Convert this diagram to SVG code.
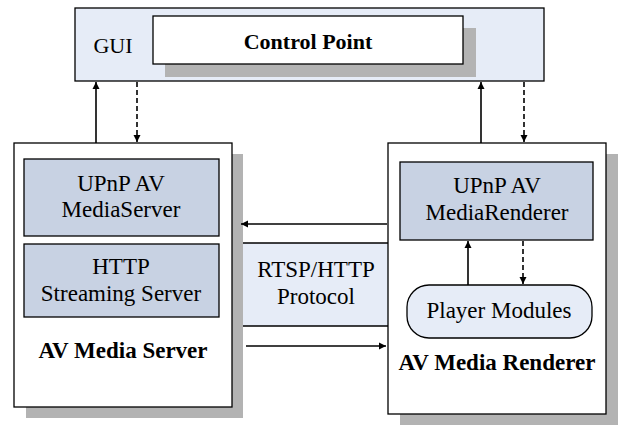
<svg xmlns="http://www.w3.org/2000/svg" width="622" height="425" viewBox="0 0 622 425">
<style>
.t{font-family:"Liberation Serif","Times New Roman",serif;font-size:23px;fill:#000;text-anchor:middle}
.b{font-weight:bold}
.shadow{fill:#b3b3b3}
.light{fill:#e6ecf7;stroke:#000;stroke-width:1.3}
.mid{fill:#c8d2e3;stroke:#000;stroke-width:1.3}
.white{fill:#fff;stroke:#000;stroke-width:1.3}
.c{stroke:#000;stroke-width:1.6;fill:none}
.d{stroke-dasharray:5 3}
</style>
<defs>
<marker id="ah" markerWidth="8" markerHeight="8" refX="7" refY="4" orient="auto" markerUnits="userSpaceOnUse">
<path d="M0,0.5 L7,4 L0,7.5 Z" fill="#000"/>
</marker>
</defs>
<rect width="622" height="425" fill="#fff"/>
<g id="protocol">
<rect x="240" y="243" width="148" height="83" fill="#e6ecf7"/>
<line x1="240" y1="243" x2="388" y2="243" stroke="#000" stroke-width="1.3"/>
<line x1="240" y1="326" x2="388" y2="326" stroke="#000" stroke-width="1.3"/>
<text class="t" x="316" y="277">RTSP/HTTP</text>
<text class="t" x="316" y="304">Protocol</text>
</g>
<g id="gui">
<rect class="light" x="75" y="8" width="469" height="73"/>
<text class="t" x="113" y="53" style="font-size:22px">GUI</text>
</g>
<g id="control-point">
<rect class="shadow" x="165" y="28" width="311" height="49"/>
<rect class="white" x="153" y="16" width="310" height="48"/>
<text class="t b" x="308" y="49" style="font-size:22px">Control Point</text>
</g>
<g id="av-media-server">
<rect class="shadow" x="26" y="154" width="217" height="264"/>
<rect class="white" x="14" y="143" width="218" height="264"/>
<text class="t b" x="123" y="358">AV Media Server</text>
</g>
<g id="upnp-mediaserver">
<rect class="mid" x="24" y="159" width="195" height="77"/>
<text class="t" x="121" y="191">UPnP AV</text>
<text class="t" x="121" y="217">MediaServer</text>
</g>
<g id="http-streaming">
<rect class="mid" x="24" y="244" width="195" height="73"/>
<text class="t" x="121" y="274">HTTP</text>
<text class="t" x="121" y="301">Streaming Server</text>
</g>
<g id="av-media-renderer">
<rect class="shadow" x="400" y="154" width="218" height="271"/>
<rect class="white" x="388" y="143" width="218" height="271"/>
<text class="t b" x="497" y="370">AV Media Renderer</text>
</g>
<g id="upnp-mediarenderer">
<rect class="mid" x="400" y="162" width="193" height="78"/>
<text class="t" x="497" y="193">UPnP AV</text>
<text class="t" x="497" y="220">MediaRenderer</text>
</g>
<g id="player-modules">
<rect class="light" x="407" y="285" width="185" height="53" rx="22" ry="22"/>
<text class="t" x="499" y="318">Player Modules</text>
</g>
<g id="connectors">
<line class="c" x1="96" y1="143" x2="96" y2="82" marker-end="url(#ah)"/>
<line class="c d" x1="137" y1="82" x2="137" y2="142" marker-end="url(#ah)"/>
<line class="c" x1="481" y1="143" x2="481" y2="82" marker-end="url(#ah)"/>
<line class="c d" x1="524" y1="82" x2="524" y2="142" marker-end="url(#ah)"/>
<line class="c" x1="387" y1="224" x2="241" y2="224" marker-end="url(#ah)"/>
<line class="c" x1="246" y1="346" x2="386" y2="346" marker-end="url(#ah)"/>
<line class="c" x1="468" y1="285" x2="468" y2="241" marker-end="url(#ah)"/>
<line class="c d" x1="523" y1="241" x2="523" y2="284" marker-end="url(#ah)"/>
</g>
</svg>
